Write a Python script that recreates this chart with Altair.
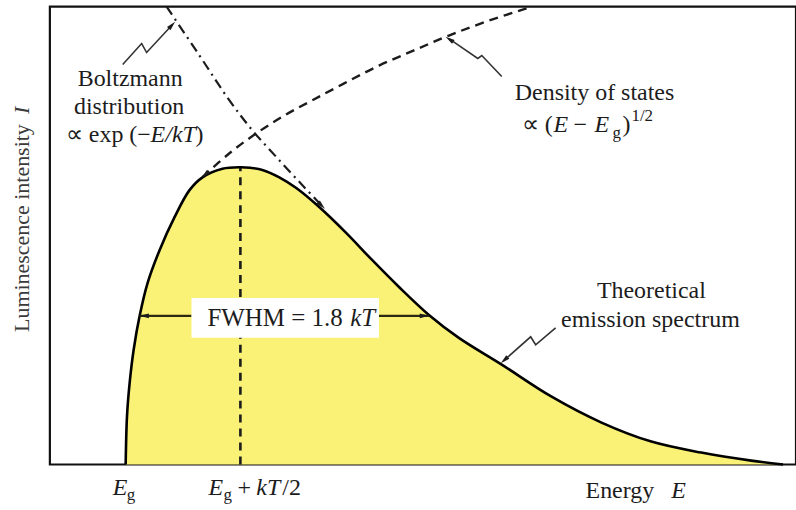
import altair as alt
import pandas as pd

# Energy in units of kT measured from the gap energy Eg; intensity normalised to the peak.
spec_e = [0.0, 0.0057, 0.0174, 0.0348, 0.0609, 0.0957, 0.1478, 0.2130, 0.2783, 0.3348,
          0.4217, 0.5, 0.5435, 0.5957, 0.6696, 0.7435, 0.8435, 0.9609, 1.0739, 1.1913, 1.3217,
          1.4522, 1.6391, 1.8565, 2.0739, 2.2913, 2.5087, 2.7261, 2.8652]
spec_i = [0.0, 0.161, 0.275, 0.386, 0.500, 0.611, 0.721, 0.832, 0.923, 0.966,
          0.995, 1.0, 0.998, 0.991, 0.966, 0.930, 0.866, 0.779, 0.688, 0.597, 0.503,
          0.426, 0.336, 0.228, 0.141, 0.077, 0.040, 0.013, 0.0]

# density of states (dashed) and Boltzmann factor (dash-dot)
dos_e = [0.3348, 0.4522, 0.5696, 0.6913, 0.8130, 0.9522, 1.1043, 1.2565, 1.4087, 1.5826, 1.7696]
dos_i = [0.9664, 1.047, 1.114, 1.174, 1.225, 1.282, 1.342, 1.393, 1.443, 1.493, 1.540]
boltz_e = [0.1783, 0.3217, 0.4522, 0.5522, 0.6696, 0.7783, 0.8652]
boltz_i = [1.5403, 1.3758, 1.2248, 1.1242, 1.0235, 0.9329, 0.8624]

peak_e, peak_i = 0.5, 1.0
half_max = 0.5
fwhm_left = [0.0609, 0.287]     # curve -> label box
fwhm_right = [1.104, 1.3217]    # label box -> curve
box_e = [0.287, 1.104]
box_i = [0.426, 0.560]

# zig-zag leader lines from the labels to the curves
leader_id = [0, 0, 0, 0, 1, 1, 1, 1, 2, 2, 2, 2]
leader_e = [-0.0130, 0.0696, 0.0913, 0.2043,
            1.6391, 1.5522, 1.5348, 1.4087,
            1.8739, 1.7870, 1.7652, 1.6478]
leader_i = [1.3456, 1.4161, 1.3859, 1.4799,
            1.3054, 1.3758, 1.3658, 1.4329,
            0.4597, 0.4027, 0.4295, 0.3490]

# arrowheads (position, pointing direction in degrees clockwise from up)
head_e = [0.200, 1.413, 1.652, 0.348, 0.852, 0.083, 1.300]
head_i = [1.4765, 1.4295, 0.3523, 0.9765, 0.8725, 0.5, 0.5]
head_angle = [43, 304, 228, 228, 135, 270, 90]

# text pieces
center_txt = ["Boltzmann", "distribution", "Density of states", "Theoretical", "emission spectrum"]
center_e = [0.0196, 0.0152, 2.0435, 2.2913, 2.2870]
center_i = [1.2718, 1.1779, 1.2248, 0.5604, 0.4631]

reg_txt = ["\u221d exp (\u2212", ")", "\u221d (", "\u2212", ")", "+", "/2", "Energy"]
reg_e = [-0.2609, 0.3043, 1.7261, 1.9522, 2.1652, 0.4870, 0.6826, 2.0043]
reg_i = [1.0839, 1.0839, 1.1174, 1.1174, 1.1174, -0.1040, -0.1040, -0.1141]

ital_txt = ["E/kT", "E", "E", "E", "E", "kT", "E"]
ital_e = [0.1087, 1.8652, 2.0435, -0.0565, 0.3609, 0.5696, 2.3783]
ital_i = [1.0839, 1.1174, 1.1174, -0.1040, -0.1040, -0.1040, -0.1141]

fwhm_txt, fwhm_e, fwhm_i = "FWHM = 1.8", 0.3565, 0.4664
kt_txt, kt_e = "kT", 0.9783

small_txt = ["g", "1/2", "g", "g"]
small_e = [2.1217, 2.2043, 0.0043, 0.4261]
small_i = [1.0973, 1.1544, -0.1208, -0.1208]

ytitle_e, ytitle_i = -0.4522, 0.7953
yvar_e, yvar_i = -0.4522, 1.1913

E_DOMAIN = [-0.3304, 2.9217]
I_DOMAIN = [0.0, 1.5403]
FONT = "Liberation Serif"
INK = "#1c1c1c"
YELLOW = "#faf276"


def X(field="e"):
    return alt.X(f"{field}:Q", scale=alt.Scale(domain=E_DOMAIN, nice=False, zero=False), axis=None)


def Y(field="i"):
    return alt.Y(f"{field}:Q", scale=alt.Scale(domain=I_DOMAIN, nice=False, zero=False), axis=None)


spec = pd.DataFrame({"e": spec_e, "i": spec_i})
dos = pd.DataFrame({"e": dos_e, "i": dos_i})
boltz = pd.DataFrame({"e": boltz_e, "i": boltz_i})
leaders = pd.DataFrame({"id": leader_id, "k": list(range(len(leader_id))), "e": leader_e, "i": leader_i})
heads = pd.DataFrame({"e": head_e, "i": head_i, "a": head_angle})
fwhm = pd.DataFrame({"e": [fwhm_left[0], fwhm_right[0]], "e2": [fwhm_left[1], fwhm_right[1]],
                     "i": [half_max, half_max]})
box = pd.DataFrame({"e": [box_e[0]], "e2": [box_e[1]], "i": [box_i[0]], "i2": [box_i[1]]})
peak = pd.DataFrame({"e": [peak_e], "i": [0.0], "i2": [peak_i]})

area = alt.Chart(spec).mark_area(color=YELLOW, interpolate="catmull-rom").encode(x=X(), y=Y())
curve = alt.Chart(spec).mark_line(color="black", strokeWidth=2.6, interpolate="catmull-rom").encode(
    x=X(), y=Y())
peak_rule = alt.Chart(peak).mark_rule(color=INK, strokeWidth=2.6, strokeDash=[8, 6]).encode(
    x=X(), y=Y(), y2="i2:Q")
dos_line = alt.Chart(dos).mark_line(color=INK, strokeWidth=2.4, strokeDash=[9, 6],
                                    interpolate="catmull-rom").encode(x=X(), y=Y())
boltz_line = alt.Chart(boltz).mark_line(color=INK, strokeWidth=2.2, strokeDash=[10, 5, 2, 5],
                                        interpolate="catmull-rom").encode(x=X(), y=Y())
fwhm_rules = alt.Chart(fwhm).mark_rule(color="#2b2a10", strokeWidth=2.2).encode(x=X(), x2="e2:Q", y=Y())
box_rect = alt.Chart(box).mark_rect(color="white").encode(x=X(), x2="e2:Q", y=Y(), y2="i2:Q")
leader_lines = alt.Chart(leaders).mark_line(color="#333333", strokeWidth=1.6).encode(
    x=X(), y=Y(), detail="id:N", order="k:Q")
arrowheads = alt.Chart(heads).mark_point(
    shape="M0,-1L0.45,0.8L-0.45,0.8Z", filled=True, color=INK, size=110, opacity=1
).encode(x=X(), y=Y(), angle=alt.Angle("a:Q", scale=None))


def texts(txt, es, iss, size=24, align="left", style="normal", color=INK, angle=0):
    df = pd.DataFrame({"t": txt, "e": es, "i": iss})
    return alt.Chart(df).mark_text(
        font=FONT, fontSize=size, align=align, baseline="alphabetic", fontStyle=style,
        color=color, angle=angle
    ).encode(x=X(), y=Y(), text="t:N")


t_center = texts(center_txt, center_e, center_i, align="center")
t_reg = texts(reg_txt, reg_e, reg_i)
t_ital = texts(ital_txt, ital_e, ital_i, style="italic")
t_fwhm = texts([fwhm_txt], [fwhm_e], [fwhm_i], size=25)
t_kt = texts([kt_txt], [kt_e], [fwhm_i], size=25, style="italic")
t_small = texts(small_txt, small_e, small_i, size=17)
t_ytitle = alt.Chart(pd.DataFrame({"t": ["Luminescence intensity"], "e": [ytitle_e], "i": [ytitle_i]})).mark_text(
    font=FONT, fontSize=22, align="center", baseline="middle", color="#3a3a3a", angle=270
).encode(x=X(), y=Y(), text="t:N")
t_yvar = alt.Chart(pd.DataFrame({"t": ["I"], "e": [yvar_e], "i": [yvar_i]})).mark_text(
    font=FONT, fontSize=22, align="center", baseline="middle", fontStyle="italic", color="#3a3a3a", angle=270
).encode(x=X(), y=Y(), text="t:N")

chart = alt.layer(
    area, peak_rule, dos_line, boltz_line, curve, fwhm_rules, box_rect, leader_lines, arrowheads,
    t_center, t_reg, t_ital, t_fwhm, t_kt, t_small, t_ytitle, t_yvar
).properties(
    width=748, height=459,
    autosize=alt.AutoSizeParams(type="none"),
    padding={"left": 50, "top": 6, "right": 0, "bottom": 45},
    background="white",
).configure_view(stroke="#111111", strokeWidth=2.2)

chart.save("out.html", embed_options={"renderer": "svg", "actions": False})
